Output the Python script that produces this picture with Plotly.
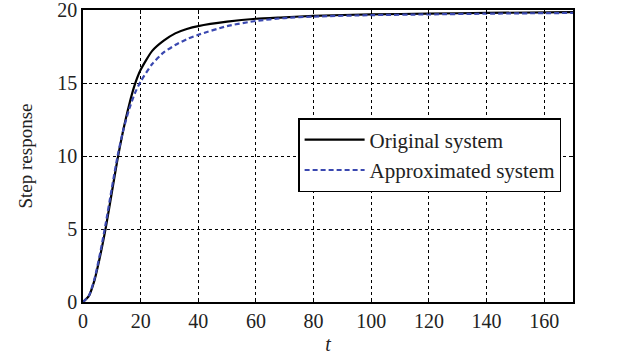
import plotly.graph_objects as go

t = [0, 2, 4, 6, 8, 10, 12, 14, 16, 18, 20, 24, 28, 32, 36, 40, 50, 60, 70, 80, 100, 120, 140, 170]
original = [0, 0.4, 1.5, 3.2, 5.2, 7.5, 9.8, 11.8, 13.5, 14.9, 15.9, 17.2, 17.9, 18.4, 18.7, 18.9,
            19.2, 19.4, 19.5, 19.6, 19.7, 19.75, 19.8, 19.85]
approx = [0, 0.4, 1.6, 3.4, 5.5, 7.8, 10.0, 11.8, 13.2, 14.3, 15.1, 16.3, 17.1, 17.6, 18.0, 18.3,
          18.9, 19.25, 19.45, 19.55, 19.65, 19.7, 19.75, 19.8]
x_ticks = [0, 20, 40, 60, 80, 100, 120, 140, 160]
y_ticks = [0, 5, 10, 15, 20]

font = "Liberation Serif"

fig = go.Figure()
fig.add_trace(go.Scatter(x=t, y=original, mode="lines", name="Original system",
                         line=dict(color="black", width=2.2, shape="spline", smoothing=0.6)))
fig.add_trace(go.Scatter(x=t, y=approx, mode="lines", name="Approximated system",
                         line=dict(color="#3a48b0", width=2.2, dash="5px,3px", shape="spline", smoothing=0.6)))

axis_common = dict(showline=True, linecolor="black", linewidth=1.5, mirror="ticks",
                   showgrid=True, gridcolor="black", gridwidth=1.2, griddash="dot",
                   ticks="inside", ticklen=4, tickcolor="black", zeroline=False,
                   ticklabeloverflow="allow",
                   tickfont=dict(family=font, size=20, color="#222"))

fig.update_xaxes(range=[0, 170], tickvals=x_ticks, **axis_common,
                 title=dict(text="<i>t</i>", font=dict(family=font, size=20, color="#222"), standoff=6))
fig.update_yaxes(range=[0, 20], tickvals=y_ticks, **axis_common,
                 title=dict(text="Step response", font=dict(family=font, size=19, color="#222"), standoff=20))

fig.update_layout(
    width=618, height=360,
    margin=dict(l=83, r=45, t=10, b=58, autoexpand=False),
    plot_bgcolor="white", paper_bgcolor="white",
    font=dict(family=font, size=20, color="#222"),
    legend=dict(x=0.439, y=0.63, xanchor="left", yanchor="top",
                bgcolor="white", bordercolor="black", borderwidth=1.5,
                font=dict(family=font, size=21, color="#222"),
                itemwidth=60, tracegroupgap=0),
)

fig.write_html("out.html", config={"displayModeBar": False},
               post_script="document.body.style.margin='0';")
